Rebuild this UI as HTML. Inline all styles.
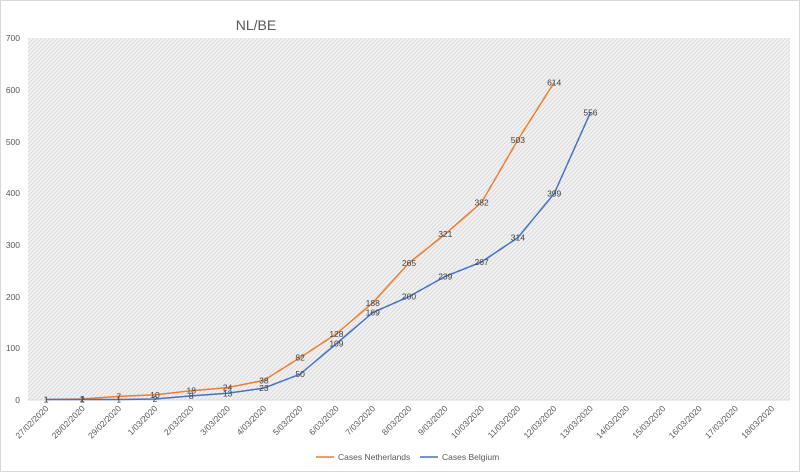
<!DOCTYPE html>
<html><head><meta charset="utf-8"><style>
html,body{margin:0;padding:0;background:#fff}
svg{display:block;font-family:"Liberation Sans",sans-serif}
</style></head><body>
<svg width="800" height="472" viewBox="0 0 800 472" xmlns="http://www.w3.org/2000/svg">
<defs>
<pattern id="h" width="4" height="4" patternUnits="userSpaceOnUse">
<rect width="4" height="4" fill="#f4f4f4"/>
<path d="M-1,1 l2,-2 M0,4 l4,-4 M3,5 l2,-2" stroke="#d9d9d9" stroke-width="1"/>
</pattern>
</defs>
<rect x="0.5" y="0.5" width="799" height="471" fill="#fff" stroke="#d9d9d9"/>
<rect x="28" y="38" width="762" height="362" fill="url(#h)"/>
<line x1="28" y1="400" x2="790" y2="400" stroke="#d9d9d9"/>
<text x="256" y="30" font-size="14" fill="#595959" text-anchor="middle">NL/BE</text>
<g font-size="8.5" fill="#595959" text-anchor="end">
<text x="20" y="403">0</text><text x="20" y="351">100</text><text x="20" y="300">200</text>
<text x="20" y="248">300</text><text x="20" y="196">400</text><text x="20" y="145">500</text>
<text x="20" y="93">600</text><text x="20" y="41">700</text>
</g>
<g id="xl" font-size="8.5" fill="#595959" text-anchor="end"></g>
<polyline id="nl" fill="none" stroke="#ed7d31" stroke-width="1.5"/>
<polyline id="be" fill="none" stroke="#4472c4" stroke-width="1.5"/>
<g id="lb" font-size="8.5" fill="#404040" text-anchor="middle"></g>
<line x1="316" y1="457" x2="334" y2="457" stroke="#ed7d31" stroke-width="1.5"/>
<text x="338" y="460" font-size="8.5" fill="#595959">Cases Netherlands</text>
<line x1="420" y1="457" x2="438" y2="457" stroke="#4472c4" stroke-width="1.5"/>
<text x="442" y="460" font-size="8.5" fill="#595959">Cases Belgium</text>
</svg>
<script>
var d=["27/02/2020","28/02/2020","29/02/2020"];for(var i=1;i<=18;i++)d.push(i+"/03/2020");
var nl=[1,2,7,10,18,24,38,82,128,188,265,321,382,503,614];
var be=[1,1,1,2,8,13,23,50,109,169,200,239,267,314,399,556];
function X(i){return 46.1+i*36.29}function Y(v){return 400-v*362/700}
var ns="http://www.w3.org/2000/svg",xl=document.getElementById("xl"),lb=document.getElementById("lb");
d.forEach(function(s,i){var t=document.createElementNS(ns,"text");var x=X(i)+3,y=409;
t.setAttribute("x",x);t.setAttribute("y",y);t.setAttribute("transform","rotate(-45 "+x+" "+y+")");t.textContent=s;xl.appendChild(t);});
function line(id,a){document.getElementById(id).setAttribute("points",a.map(function(v,i){return X(i)+","+Y(v)}).join(" "));
a.forEach(function(v,i){var t=document.createElementNS(ns,"text");t.setAttribute("x",X(i));t.setAttribute("y",Y(v)+3);t.textContent=v;lb.appendChild(t);});}
line("nl",nl);line("be",be);
</script>
</body></html>
